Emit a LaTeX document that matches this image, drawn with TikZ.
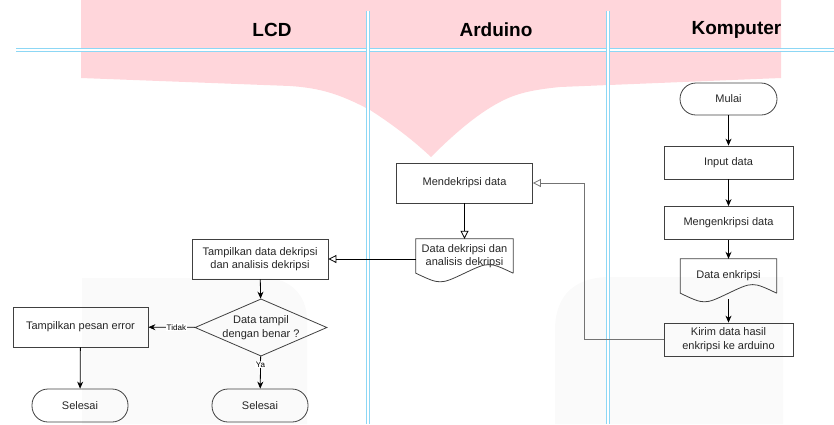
\documentclass[tikz,border=0pt]{standalone}
\usepackage{fontspec}
\setmainfont{Liberation Sans}
\definecolor{pinkmark}{RGB}{255,214,219}
\definecolor{abumark}{RGB}{250,250,250}
\definecolor{lanebiru}{RGB}{140,215,245}
\usetikzlibrary{arrows.meta,shapes.geometric,calc}
\tikzstyle{teks}=[font=\fontsize{11}{13.5}\selectfont,text=black!85,align=center]
\tikzstyle{proses}=[teks,rectangle,draw=black!75,line width=0.8pt,minimum width=136pt,minimum height=40pt,inner sep=2pt]
\tikzstyle{terminal}=[teks,rectangle,rounded corners=16pt,draw=black!75,line width=0.8pt,minimum width=96pt,minimum height=33pt]
\tikzstyle{keputusan}=[teks,diamond,draw=black!75,line width=0.8pt,aspect=2.3,inner sep=0pt,minimum width=132pt,minimum height=57pt]
\tikzstyle{dokumen}=[teks,rectangle,minimum width=97pt,minimum height=34pt,inner sep=2pt]
\tikzstyle{judul}=[font=\fontsize{19}{22}\selectfont\bfseries]
\tikzstyle{ket}=[font=\fontsize{8}{9}\selectfont,fill=white,inner sep=1pt]
\tikzstyle{lajur}=[draw=lanebiru,double=white,double distance=2.2pt,line width=0.8pt]
\tikzstyle{dedge}=[draw,line width=0.8pt,-{Stealth[length=7pt,width=6pt]}]
\tikzstyle{oedge}=[draw,line width=0.8pt,-{Triangle[open,length=8pt,width=8pt]}]
% dokumen: sisi lurus + bawah bergelombang
\newcommand{\gambardok}[1]{%
  \draw[draw=black!75,line width=0.8pt] (#1.south east) -- (#1.north east) -- (#1.north west) -- (#1.south west)
    .. controls ($(#1.south)!0.5!(#1.south west)+(0,11.5)$) .. (#1.south)
    .. controls ($(#1.south)!0.5!(#1.south east)+(0,-11.5)$) .. (#1.south east);}

\begin{document}
\begin{tikzpicture}[x=1pt,y=-1pt]
                    % tanda air
                    \fill[pinkmark] (81,0) -- (81,78) -- (290,86) .. controls (320,88) and (340,94) .. (370,110)
                        .. controls (395,126) and (415,142) .. (431,157)
                        .. controls (450,138) and (475,115) .. (500,102)
                        .. controls (515,94) and (530,90) .. (560,87) -- (781,78) -- (781,0) -- cycle;
                    \fill[abumark] (82,424) -- (82,278) -- (265,278) .. controls (290,278) and (307,295) .. (307,320) -- (307,424) -- cycle;
                    \fill[abumark] (555,424) -- (555,330) .. controls (555,295) and (575,277) .. (610,277) -- (783,277) -- (783,424) -- cycle;

                    % lajur
                    \path[lajur] (16,50) -- (834,50);
                    \path[lajur] (368,11) -- (368,424);
                    \path[lajur] (608,11) -- (608,424);
                    \node[judul] (jlcd) at (272,30) {LCD};
                    \node[judul] (jard) at (496,30) {Arduino};
                    \node[judul] (jkom) at (736.5,30) {Komputer};

                    % komputer
                    \node[terminal,minimum width=97pt,minimum height=32pt] (mulai) at (728.5,99) {Mulai};
                    \node[proses,minimum width=129pt,minimum height=33pt] (input) at (728.5,162.5) {Input data};
                    \node[proses,minimum width=129pt,minimum height=33pt] (enkrip) at (728.5,223) {Mengenkripsi data};
                    \node[dokumen,minimum width=96pt] (denk) at (728.5,276) {Data enkripsi};
                    \gambardok{denk}
                    \node[proses,minimum width=129pt,minimum height=33pt] (kirim) at (728.5,339.5) {Kirim data hasil\\enkripsi ke arduino};

                    % arduino
                    \node[proses] (mdek) at (464.5,183) {Mendekripsi data};
                    \node[dokumen] (ddek) at (464.5,256) {Data dekripsi dan\\analisis dekripsi};
                    \gambardok{ddek}
                    \coordinate (belok) at (584,183);

                    % lcd
                    \node[proses] (tampil) at (260,259) {Tampilkan data dekripsi\\dan analisis dekripsi};
                    \node[keputusan] (cek) at (261,327.5) {Data tampil\\dengan benar ?};
                    \node[proses,minimum width=135pt] (error) at (80.5,327) {Tampilkan pesan error};
                    \node[terminal] (selesai1) at (80,405.5) {Selesai};
                    \node[terminal] (selesai2) at (260,405.5) {Selesai};

                    \path[dedge] (mulai) -- (input);
                    \path[dedge] (input) -- (enkrip);
                    \path[dedge] (enkrip) -- (denk);
                    \path[dedge] ([yshift=-6pt]denk.south) -- (kirim);
                    \path[oedge,draw=black!55] (kirim.west) -| (belok) -- (mdek.east);
                    \path[oedge] (mdek) -- (ddek.north);
                    \path[oedge] (ddek.west |- tampil) -- (tampil);
                    \path[dedge] (tampil) -- (cek);
                    \path[dedge] (cek) -- node[ket,pos=0.4] {Tidak} (error);
                    \path[dedge] (cek) -- node[ket,pos=0.25] {Ya} (selesai2);
                    \path[dedge] (error) -- (selesai1);

                    \pgfresetboundingbox
                    \path [use as bounding box] (0,0) rectangle (834,424);
                \end{tikzpicture}
\end{document}
